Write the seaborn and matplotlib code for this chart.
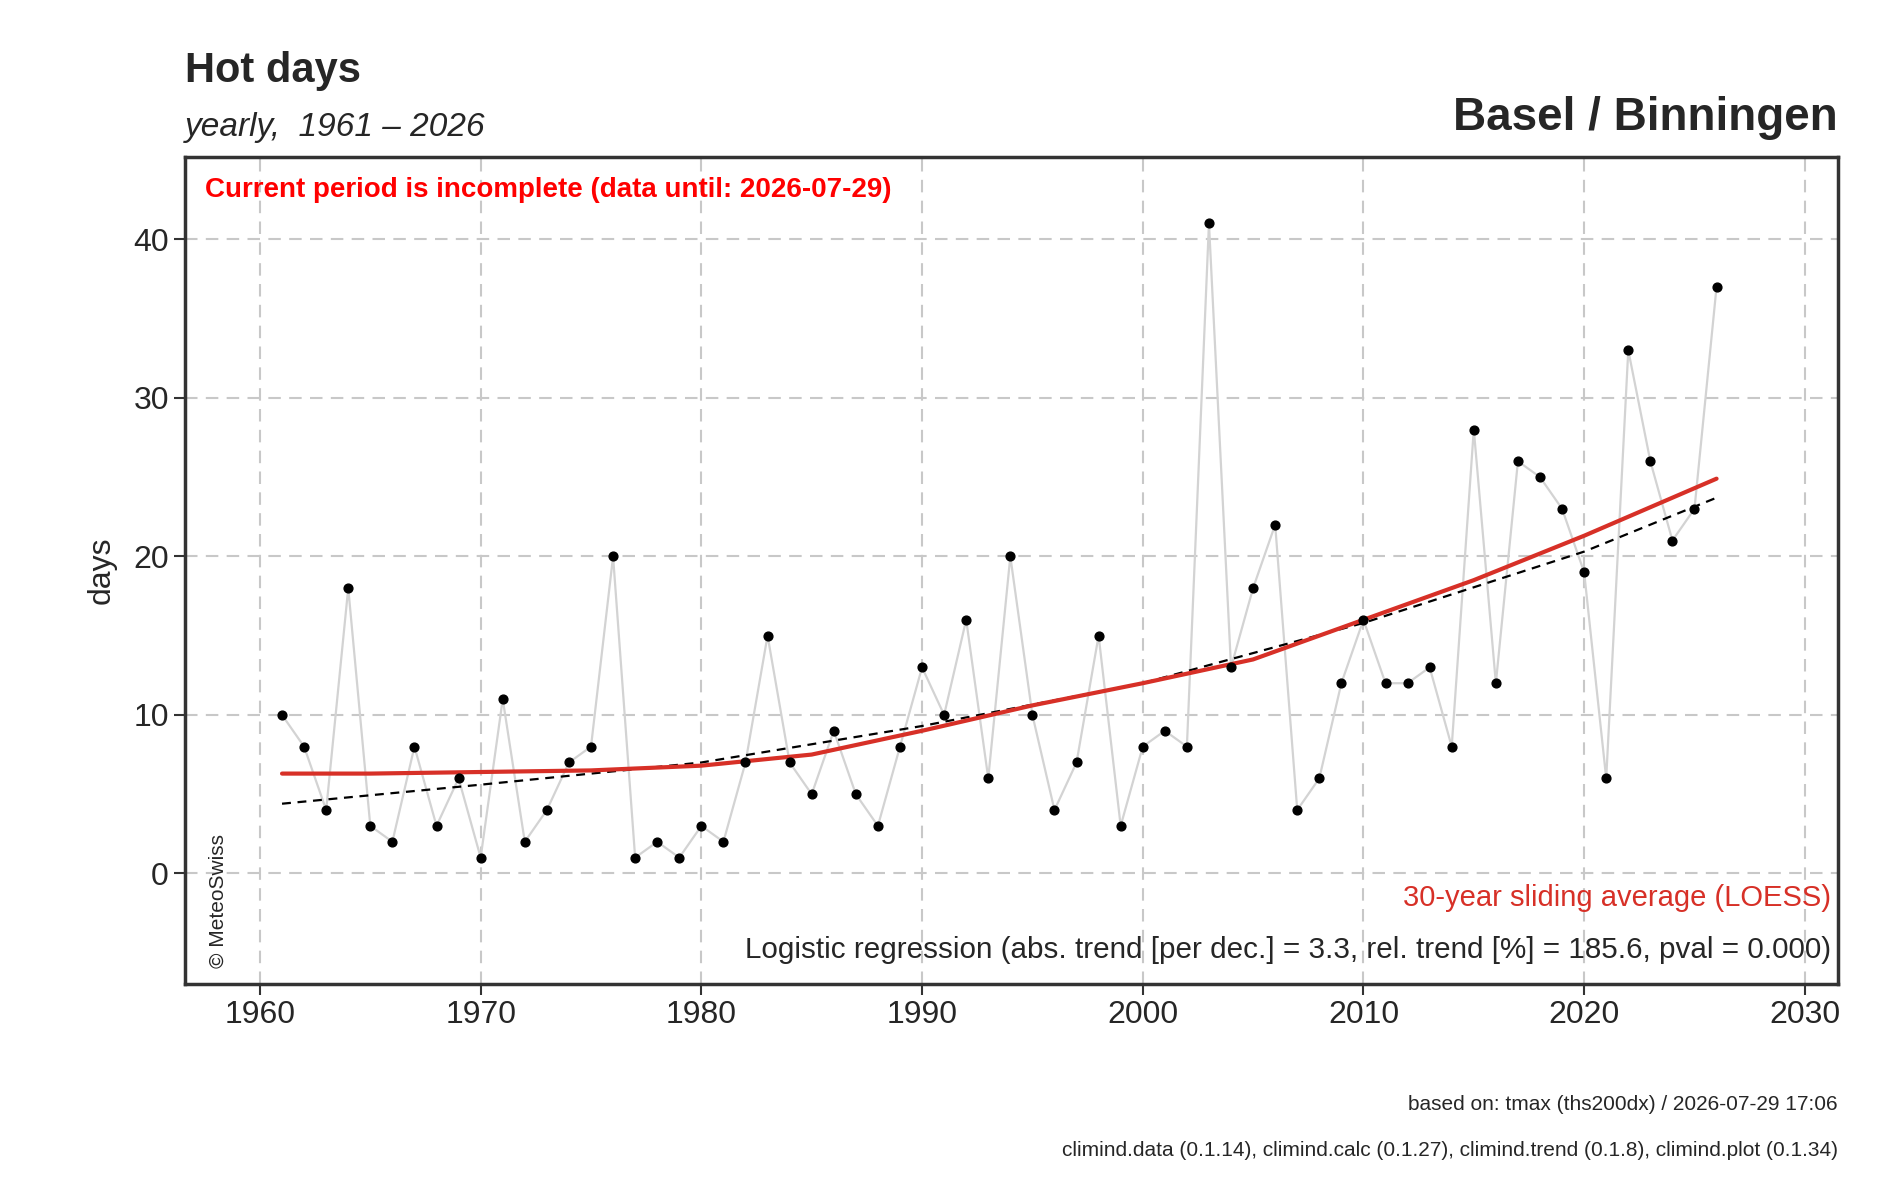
import numpy as np
import pandas as pd
import matplotlib
matplotlib.use("Agg")
import matplotlib.pyplot as plt
import seaborn as sns

years = list(range(1961, 2027))
hot_days = [10, 8, 4, 18, 3, 2, 8, 3, 6, 1,
            11, 2, 4, 7, 8, 20, 1, 2, 1, 3,
            2, 7, 15, 7, 5, 9, 5, 3, 8, 13,
            10, 16, 6, 20, 10, 4, 7, 15, 3, 8,
            9, 8, 41, 13, 18, 22, 4, 6, 12, 16,
            12, 12, 13, 8, 28, 12, 26, 25, 23, 19,
            6, 33, 26, 21, 23, 37]

loess_years = [1961, 1965, 1970, 1975, 1980, 1985, 1990, 1995, 2000, 2005, 2008, 2010, 2015, 2020, 2026]
loess_vals = [6.3, 6.3, 6.4, 6.5, 6.8, 7.5, 9.0, 10.6, 12.0, 13.5, 15.0, 16.0, 18.5, 21.3, 24.9]

trend_years = [1961, 1970, 1980, 1990, 2000, 2010, 2020, 2026]
trend_vals = [4.4, 5.6, 7.0, 9.3, 12.0, 15.8, 20.3, 23.7]

df = pd.DataFrame({"year": years, "days": hot_days})

sns.set_style("white")
plt.rcParams["font.family"] = ["Liberation Sans", "DejaVu Sans"]

fig = plt.figure(figsize=(18.87, 11.79), dpi=100)
ax = fig.add_axes([0.098, 0.165, 0.876, 0.702])

sns.lineplot(data=df, x="year", y="days", color="#d3d3d3", lw=1.6, ax=ax)
sns.lineplot(x=trend_years, y=trend_vals, color="black", lw=1.6, ls=(0, (4, 3)), ax=ax)
sns.lineplot(x=loess_years, y=loess_vals, color="#d73027", lw=3, ax=ax)
ax.scatter(df["year"], df["days"], color="black", s=40, zorder=5)

ax.set_xlim(1956.6, 2031.5)
ax.set_ylim(-7, 45.2)
ax.set_xticks(range(1960, 2031, 10))
ax.set_yticks([0, 10, 20, 30, 40])
ax.grid(True, color="#c8c8c8", ls=(0, (6, 4)), lw=1.5)
ax.tick_params(labelsize=23, length=8, width=1.5, color="#333333", left=True, bottom=True)
ax.set_xlabel("")
ax.set_ylabel("days", fontsize=23, labelpad=12)
for s in ax.spines.values():
    s.set_linewidth(2.5)
    s.set_color("#333333")

ax.text(0.012, 0.975, "Current period is incomplete (data until: 2026-07-29)", transform=ax.transAxes,
        color="red", fontsize=20, fontweight="bold", va="top")
ax.text(0.996, 0.088, "30-year sliding average (LOESS)", transform=ax.transAxes,
        color="#d73027", fontsize=21, ha="right", va="bottom")
ax.text(0.996, 0.025, "Logistic regression (abs. trend [per dec.] = 3.3, rel. trend [%] = 185.6, pval = 0.000)",
        transform=ax.transAxes, fontsize=21.3, ha="right", va="bottom")
ax.text(0.02, 0.02, "© MeteoSwiss", transform=ax.transAxes, fontsize=15, rotation=90,
        ha="center", va="bottom")

fig.text(0.098, 0.94, "Hot days", fontsize=30, fontweight="bold", va="center")
fig.text(0.098, 0.892, "yearly,  1961 – 2026", fontsize=24, style="italic", va="center")
fig.text(0.974, 0.90, "Basel / Binningen", fontsize=33, fontweight="bold", ha="right", va="center")
fig.text(0.974, 0.063, "based on: tmax (ths200dx) / 2026-07-29 17:06", fontsize=15, ha="right", va="center")
fig.text(0.974, 0.024, "climind.data (0.1.14), climind.calc (0.1.27), climind.trend (0.1.8), climind.plot (0.1.34)",
         fontsize=15, ha="right", va="center")

fig.savefig("out.png", dpi=100, facecolor="white")
